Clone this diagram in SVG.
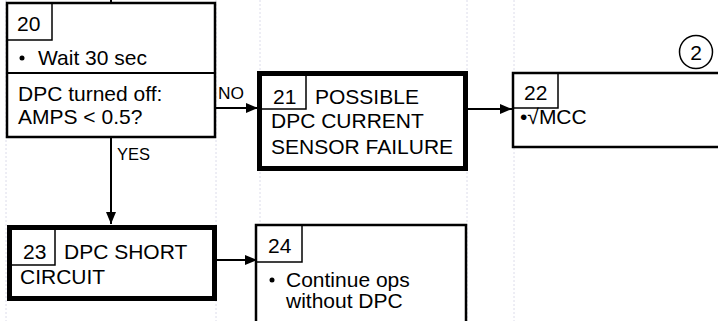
<svg xmlns="http://www.w3.org/2000/svg" width="718" height="321" viewBox="0 0 718 321">
<style>
.grid{stroke:#dcdcea;stroke-width:1;stroke-dasharray:2,2;fill:none}
.box{fill:#fff;stroke:#000;stroke-width:2.5}
.thick{fill:#fff;stroke:#000;stroke-width:5}
.num{fill:none;stroke:#000;stroke-width:1.5}
.t{font-family:"Liberation Sans",Arial,sans-serif;font-size:21px;fill:#000}
.lbl{font-family:"Liberation Sans",Arial,sans-serif;font-size:17px;fill:#000}
.line{stroke:#000;stroke-width:2;fill:none}
</style>
<defs>
<marker id="ah" markerWidth="12" markerHeight="10" refX="12" refY="5" orient="auto" markerUnits="userSpaceOnUse">
<path d="M0,0 L12,5 L0,10 z" fill="#000"/>
</marker>
</defs>
<rect width="718" height="321" fill="#fff"/>
<g id="grid">
<line class="grid" x1="6" y1="0" x2="6" y2="321"/>
<line class="grid" x1="216" y1="0" x2="216" y2="321"/>
<line class="grid" x1="260" y1="0" x2="260" y2="321"/>
<line class="grid" x1="467" y1="0" x2="467" y2="321"/>
<line class="grid" x1="514" y1="0" x2="514" y2="321"/>
</g>
<g id="connectors">
<line class="line" x1="111" y1="0" x2="111" y2="4"/>
<line class="line" x1="215" y1="108" x2="258" y2="108" marker-end="url(#ah)"/>
<line class="line" x1="468" y1="109" x2="512" y2="109" marker-end="url(#ah)"/>
<line class="line" x1="111" y1="137" x2="111" y2="224" marker-end="url(#ah)"/>
<line class="line" x1="217" y1="260" x2="257" y2="260" marker-end="url(#ah)"/>
<text class="lbl" x="218" y="99" textLength="26" lengthAdjust="spacingAndGlyphs">NO</text>
<text class="lbl" x="117" y="160" textLength="33" lengthAdjust="spacingAndGlyphs">YES</text>
</g>
<g id="node20">
<rect class="box" x="7" y="3" width="208" height="134"/>
<line class="line" x1="7" y1="73" x2="215" y2="73"/>
<rect class="num" x="7" y="3" width="45" height="37"/>
<text class="t" x="17" y="31">20</text>
<circle cx="22" cy="58" r="2.5" fill="#000"/>
<text class="t" x="38" y="65">Wait 30 sec</text>
<text class="t" x="18" y="101">DPC turned off:</text>
<text class="t" x="18" y="124">AMPS &lt; 0.5?</text>
</g>
<g id="node21">
<rect class="thick" x="259.5" y="73.5" width="206" height="95"/>
<path class="num" d="M260,109 H306 V75"/>
<text class="t" x="273" y="104">21</text>
<text class="t" x="315" y="104">POSSIBLE</text>
<text class="t" x="271" y="128">DPC CURRENT</text>
<text class="t" x="271" y="154">SENSOR FAILURE</text>
</g>
<g id="node22">
<rect class="box" x="513" y="73" width="220" height="74" stroke-width="2"/>
<rect class="num" x="513" y="73" width="45" height="35"/>
<text class="t" x="524" y="100">22</text>
<text class="t" x="520" y="124">•√MCC</text>
</g>
<g id="connector2">
<circle cx="696" cy="52" r="16.5" fill="#fff" stroke="#000" stroke-width="1.5"/>
<text class="t" x="696" y="59.5" text-anchor="middle">2</text>
</g>
<g id="node23">
<rect class="thick" x="9.5" y="227.5" width="205" height="71"/>
<path class="num" d="M10,265 H55 V229"/>
<text class="t" x="23" y="259">23</text>
<text class="t" x="64" y="259">DPC SHORT</text>
<text class="t" x="20" y="284">CIRCUIT</text>
</g>
<g id="node24">
<rect class="box" x="256" y="225" width="210" height="110" stroke-width="2"/>
<rect class="num" x="256" y="225" width="46" height="37"/>
<text class="t" x="268" y="253">24</text>
<circle cx="272" cy="280" r="2.5" fill="#000"/>
<text class="t" x="286" y="287">Continue ops</text>
<text class="t" x="286" y="308">without DPC</text>
</g>
</svg>
